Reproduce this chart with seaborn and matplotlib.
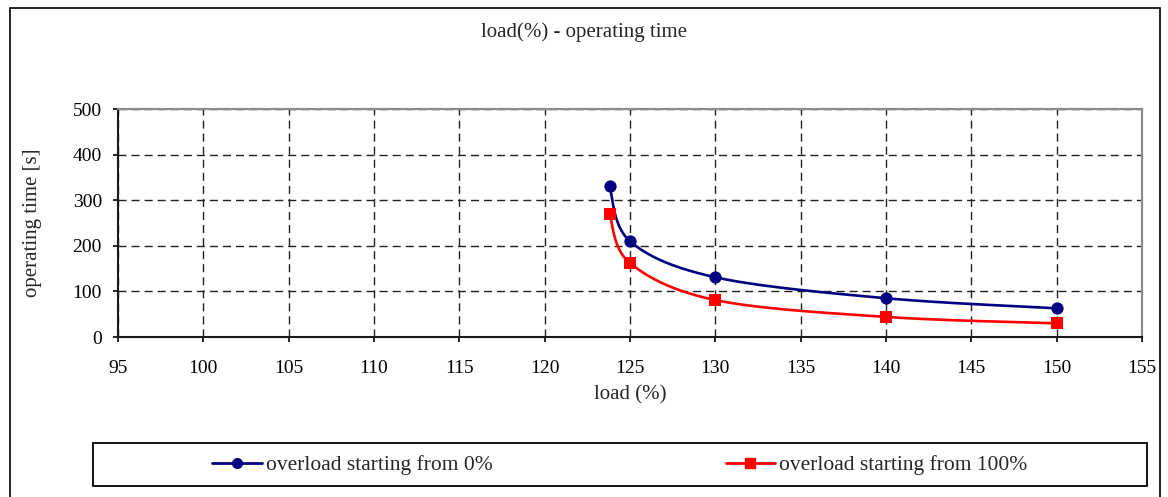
import numpy as np
import pandas as pd
import matplotlib
matplotlib.use("Agg")
import matplotlib.pyplot as plt
import seaborn as sns
from matplotlib.patches import Rectangle
from matplotlib.lines import Line2D

load = [123.8, 125, 130, 140, 150]
time_from_0 = [331, 210, 131, 85, 63]
time_from_100 = [270, 162, 81, 44, 30]
series_names = ["overload starting from 0%", "overload starting from 100%"]
series_colors = ["#000080", "#FF0000"]
series_markers = ["o", "s"]
x_ticks = [95, 100, 105, 110, 115, 120, 125, 130, 135, 140, 145, 150, 155]
y_ticks = [0, 100, 200, 300, 400, 500]


def smooth(xs, ys, n=40):
    # Excel-like smoothed line: parametric Bezier through the points
    P = np.column_stack([xs, ys]).astype(float)
    out = []
    for i in range(len(P) - 1):
        p0 = P[i - 1] if i > 0 else P[i]
        p1 = P[i]
        p2 = P[i + 1]
        p3 = P[i + 2] if i + 2 < len(P) else P[i + 1]
        c1 = p1 + (p2 - p0) / 6.0
        c2 = p2 - (p3 - p1) / 6.0
        t = np.linspace(0, 1, n)[:, None]
        b = ((1 - t) ** 3) * p1 + 3 * ((1 - t) ** 2) * t * c1 + 3 * (1 - t) * t ** 2 * c2 + t ** 3 * p2
        out.append(b if i == 0 else b[1:])
    B = np.vstack(out)
    return B[:, 0], B[:, 1]


sns.set_theme(style="white")
plt.rcParams["font.family"] = ["Liberation Serif", "DejaVu Serif"]

fig = plt.figure(figsize=(11.68, 4.97), dpi=100)
ax = fig.add_axes([118 / 1168, 1 - 337 / 497, (1142 - 118) / 1168, (337 - 109) / 497])

for name, ys, col, mk, sz in zip(series_names, [time_from_0, time_from_100], series_colors,
                                 series_markers, [78, 68]):
    sx, sy = smooth(load, ys)
    dfl = pd.DataFrame({"x": sx, "y": sy})
    sns.lineplot(data=dfl, x="x", y="y", ax=ax, color=col, lw=1.9, sort=False, estimator=None)
    dfp = pd.DataFrame({"x": load, "y": ys})
    sns.scatterplot(data=dfp, x="x", y="y", ax=ax, color=col, marker=mk, s=sz,
                    edgecolor=col, linewidth=0, zorder=5)

ax.set_xlim(95, 155)
ax.set_ylim(0, 500)
ax.set_xticks(x_ticks)
ax.set_yticks(y_ticks)
ax.grid(True, color="#202020", linestyle=(0, (5.8, 3.6)), linewidth=1.0)
ax.tick_params(axis="y", direction="out", length=3.6, width=1.2, colors="black",
               labelsize=14, left=True, pad=8)
ax.tick_params(axis="x", direction="out", length=3.6, width=1.2, colors="black",
               labelsize=14, bottom=True, pad=13)
for sp in ["top", "right"]:
    ax.spines[sp].set_color("#8c8c8c")
    ax.spines[sp].set_linewidth(1.6)
for sp in ["bottom", "left"]:
    ax.spines[sp].set_color("#1a1a1a")
    ax.spines[sp].set_linewidth(1.5)
ax.set_xlabel("load (%)", fontsize=15, labelpad=6)
ax.set_ylabel("operating time [s]", fontsize=15, labelpad=22)

fig.text(0.5, 1 - 32 / 497, "load(%) - operating time", ha="center", va="center", fontsize=15)

# outer border
fig.add_artist(Rectangle((10 / 1168, -0.01), 1150 / 1168, 1 - 8 / 497 + 0.01, transform=fig.transFigure,
                         fill=False, edgecolor="black", linewidth=1.2))

# legend box
fig.add_artist(Rectangle((93 / 1168, 1 - 486 / 497), (1147 - 93) / 1168, 43 / 497,
                         transform=fig.transFigure, fill=False, edgecolor="black", linewidth=1.3))
handles = [Line2D([], [], color=c, marker=m, lw=2, markersize=ms)
           for c, m, ms in zip(series_colors, series_markers, [7, 7.5])]
leg = fig.legend(handles, series_names, loc="center",
                 bbox_to_anchor=(620 / 1168, 1 - 465 / 497),
                 ncol=2, frameon=False, fontsize=15.5,
                 handlelength=2.3, handletextpad=0.2, columnspacing=10.8)

fig.savefig("out.png", dpi=100, facecolor="white")
